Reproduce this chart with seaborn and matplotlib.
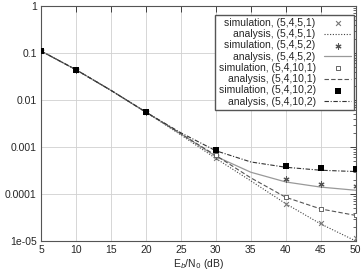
import numpy as np
import pandas as pd
import matplotlib
matplotlib.use("Agg")
import matplotlib.pyplot as plt
import matplotlib.ticker as mticker
import seaborn as sns

# values
snr_sim = [5, 10, 20, 30, 40, 45, 50]
snr_ana = [5, 10, 15, 20, 25, 30, 35, 40, 45, 50]

sim_5451 = [0.11, 0.043, 0.0055, 5.8e-4, 6.1e-5, 2.4e-5, 1.15e-5]
sim_5452 = [0.11, 0.043, 0.0055, 6.5e-4, 2.1e-4, 1.6e-4, 1.5e-4]
sim_54101 = [0.11, 0.043, 0.0055, 6.9e-4, 8.8e-5, 4.8e-5, 3.6e-5]
sim_54102 = [0.11, 0.043, 0.0055, 8.8e-4, 3.9e-4, 3.5e-4, 3.4e-4]

ana_5451 = [0.11, 0.044, 0.016, 0.0055, 0.0018, 5.7e-4, 1.9e-4, 6.2e-5, 2.3e-5, 1.0e-5]
ana_5452 = [0.11, 0.044, 0.016, 0.0055, 0.0019, 6.3e-4, 2.9e-4, 1.8e-4, 1.4e-4, 1.2e-4]
ana_54101 = [0.11, 0.044, 0.016, 0.0055, 0.0019, 6.6e-4, 2.2e-4, 8.5e-5, 4.8e-5, 3.5e-5]
ana_54102 = [0.11, 0.044, 0.016, 0.0055, 0.0020, 8.3e-4, 4.8e-4, 3.7e-4, 3.2e-4, 3.0e-4]

params = ["(5,4,5,1)", "(5,4,5,2)", "(5,4,10,1)", "(5,4,10,2)"]
sims = [sim_5451, sim_5452, sim_54101, sim_54102]
anas = [ana_5451, ana_5452, ana_54101, ana_54102]

sns.set_style("white")
plt.rcParams["font.family"] = ["Liberation Sans", "DejaVu Sans"]
plt.rcParams["font.size"] = 7.5

fig = plt.figure(figsize=(3.61, 2.70), dpi=100)
ax = fig.add_axes([0.1136, 0.1074, 0.872, 0.8706])

marker_styles = [
    dict(marker="x", s=12, color="#777777", linewidth=0.8),
    dict(marker=(6, 2, 0), s=14, color="#555555", linewidth=0.8),
    dict(marker="s", s=10, facecolor="white", edgecolor="#666666", linewidth=0.7),
    dict(marker="s", s=16, color="black", linewidth=0),
]
line_styles = [
    dict(color="#444444", linestyle=(0, (1, 1.5)), linewidth=0.8),
    dict(color="#999999", linestyle="-", linewidth=0.9),
    dict(color="#555555", linestyle=(0, (4, 2)), linewidth=0.8),
    dict(color="#333333", linestyle=(0, (4, 1.5, 1, 1.5)), linewidth=0.8),
]

for p, sim, ana, ms, ls in zip(params, sims, anas, marker_styles, line_styles):
    df_a = pd.DataFrame({"snr": snr_ana, "ber": ana})
    sns.lineplot(data=df_a, x="snr", y="ber", ax=ax, label=f"analysis, {p}", **ls)
    df_s = pd.DataFrame({"snr": snr_sim, "ber": sim})
    sns.scatterplot(data=df_s, x="snr", y="ber", ax=ax, label=f"simulation, {p}",
                    zorder=5, **ms)

ax.set_yscale("log")
ax.set_xlim(5, 50)
ax.set_ylim(1e-5, 1)
ax.set_xticks(range(5, 51, 5))
ax.set_yticks([1e-5, 1e-4, 1e-3, 1e-2, 1e-1, 1])
ax.set_yticklabels(["1e-05", "0.0001", "0.001", "0.01", "0.1", "1"])
ax.yaxis.set_minor_locator(mticker.LogLocator(base=10, subs=np.arange(2, 10)))
ax.yaxis.set_minor_formatter(mticker.NullFormatter())
ax.grid(True, which="major", color="#d0d0d0", linewidth=0.6)
ax.tick_params(which="both", direction="in", top=True, right=True, labelsize=7.5)
ax.tick_params(which="major", length=4, width=0.6, pad=3)
ax.tick_params(which="minor", length=2, width=0.5)
for sp in ax.spines.values():
    sp.set_color("#555555")
    sp.set_linewidth(0.8)
ax.set_xlabel("E$_b$/N$_0$ (dB)", fontsize=7.5, labelpad=1)
ax.set_ylabel("")

handles, labels = ax.get_legend_handles_labels()
lookup = dict(zip(labels, handles))
order = []
for p in params:
    order += [f"simulation, {p}", f"analysis, {p}"]
ax.legend([lookup[k] for k in order], order, loc="upper right",
          bbox_to_anchor=(0.995, 0.962), borderaxespad=0,
          markerfirst=False, fancybox=False, framealpha=1, edgecolor="#555555",
          fontsize=7.5, handlelength=2.6, handletextpad=0.8, labelspacing=0.12,
          borderpad=0.3, scatterpoints=1)

fig.savefig("out.png", dpi=100)
